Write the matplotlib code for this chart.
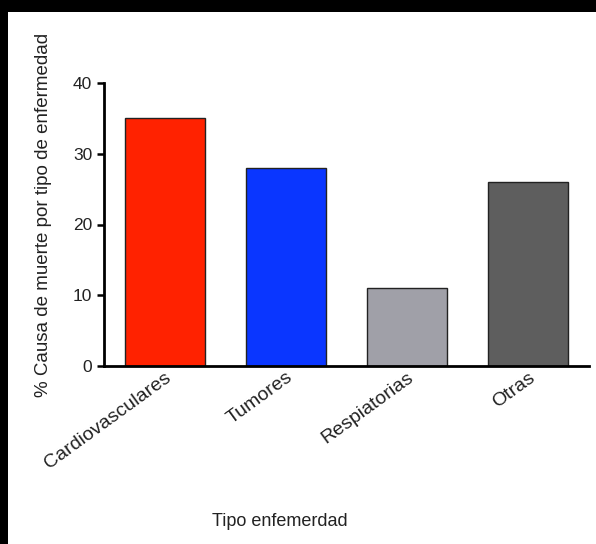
import matplotlib
matplotlib.use("Agg")
import matplotlib.pyplot as plt
from matplotlib.patches import Rectangle

categories = ["Cardiovasculares", "Tumores", "Respiatorias", "Otras"]
values = [35, 28, 11, 26]
colors = ["#FF2200", "#0A36FF", "#A0A0A8", "#5E5E5E"]
yticks = [0, 10, 20, 30, 40]

plt.rcParams['font.family'] = ['Liberation Sans', 'DejaVu Sans']

W, H = 596, 544
fig = plt.figure(figsize=(W / 100, H / 100), dpi=100)
fig.patch.set_facecolor("white")

# black frame strips (top and left)
fig.patches.append(Rectangle((0, 1 - 12 / H), 1, 12 / H, transform=fig.transFigure,
                             facecolor="black", edgecolor="none", zorder=10))
fig.patches.append(Rectangle((0, 0), 8 / W, 1, transform=fig.transFigure,
                             facecolor="black", edgecolor="none", zorder=10))

ax = fig.add_axes([104 / W, 1 - 366 / H, (589 - 104) / W, (366 - 83) / H])
x = list(range(len(categories)))
ax.bar(x, values, width=0.66, color=colors, edgecolor="#222222", linewidth=1.0)
ax.set_xlim(-0.5, 3.5)
ax.set_ylim(0, 40)
ax.set_yticks(yticks)
ax.set_xticks(x)
ax.set_xticklabels(categories, rotation=36, ha="right", rotation_mode="anchor",
                   fontsize=14, color="#222222")
ax.tick_params(axis="x", length=0, pad=2)
ax.tick_params(axis="y", length=5, width=1.8, pad=3.5, labelsize=12.5,
               labelcolor="#222222")
for s in ["top", "right"]:
    ax.spines[s].set_visible(False)
ax.spines["left"].set_linewidth(2.0)
ax.spines["bottom"].set_linewidth(2.0)

fig.text(44 / W, 1 - 215 / H, "% Causa de muerte por tipo de enfermedad",
         rotation=90, ha="center", va="center", fontsize=13.5, color="#222222")
fig.text(280 / W, 1 - 521 / H, "Tipo enfemerdad", ha="center", va="center",
         fontsize=13, color="#222222")

fig.savefig("out.png", dpi=100)
